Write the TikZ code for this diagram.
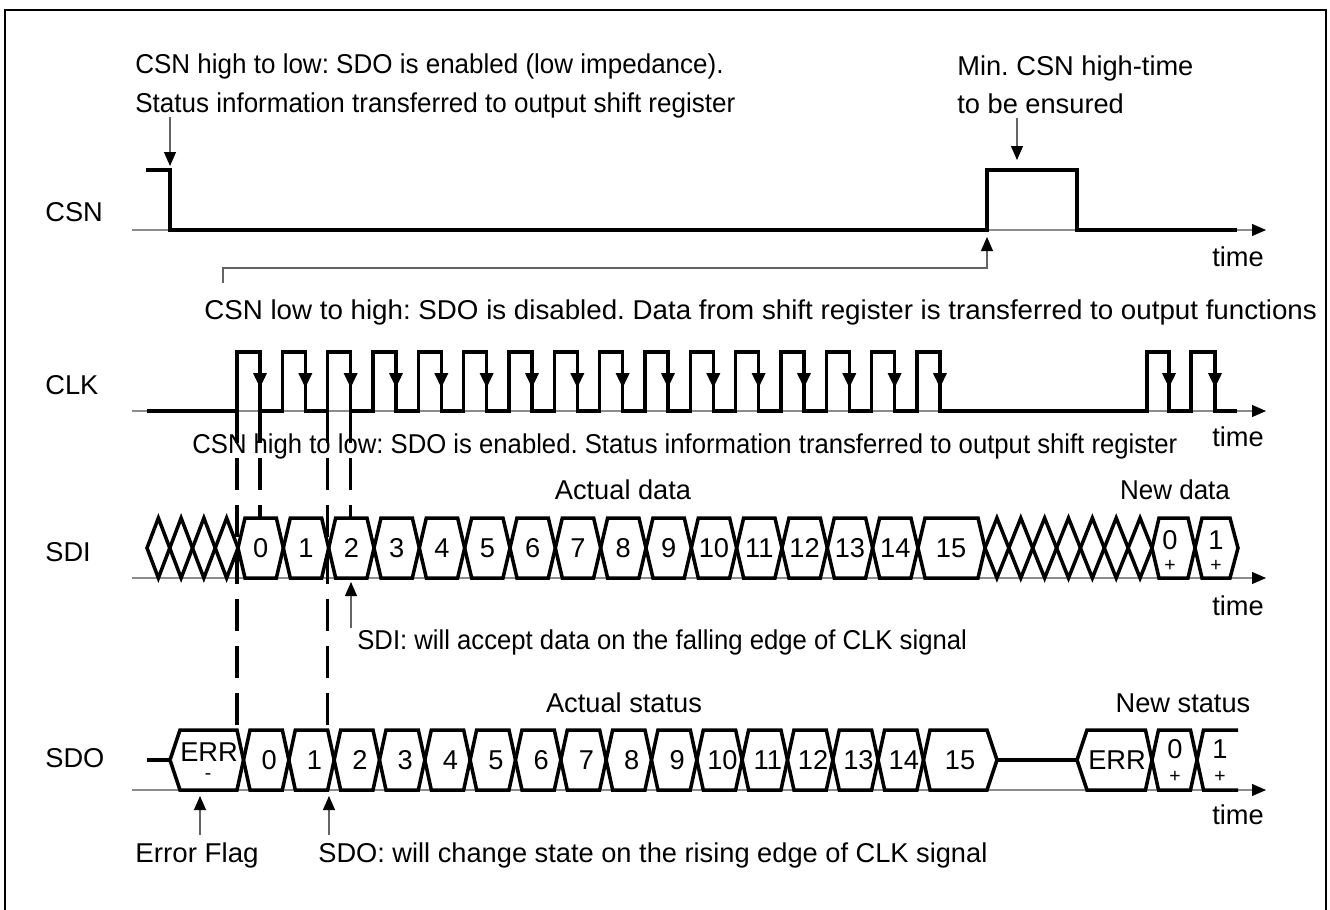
\documentclass[tikz,border=0pt]{standalone}
\usepackage{fontspec}
\setmainfont{Liberation Sans}
\newfontfamily\narrowfont{Liberation Sans}[FakeStretch=0.955]
\newfontfamily\narrowerfont{Liberation Sans}[FakeStretch=0.943]
\newfontfamily\widefont{Liberation Sans}[FakeStretch=1.018]
\usepackage{tikz}
\usetikzlibrary{arrows.meta,positioning}
\definecolor{tgray}{RGB}{100,100,100}
\definecolor{tline}{RGB}{140,140,140}

\begin{document}
\frenchspacing
\begin{tikzpicture}[
  x=0.02cm,y=-0.02cm,
  font=\fontsize{15.5}{18}\selectfont,
  sig/.style={line width=2pt},
  axis/.style={line width=0.6pt,tline,-{Triangle[color=black,length=0.28cm,width=0.24cm]}},
  ann/.style={line width=0.6pt,tgray,-{Triangle[color=black,length=0.28cm,width=0.24cm]}},
  clkarr/.style={line width=2pt,-{Triangle[length=0.3cm,width=0.26cm]}},
  guide/.style={line width=2pt,dash pattern=on 0.64cm off 0.3cm},
  txt/.style={inner sep=0pt,text height=11pt,text depth=0pt},
  note/.style={txt,anchor=west},
  narrow/.style={font=\narrowfont\fontsize{15.5}{18}\selectfont},
  narrower/.style={font=\narrowerfont\fontsize{15.5}{18}\selectfont},
  wide/.style={font=\widefont\fontsize{15.5}{18}\selectfont},
  signlbl/.style={inner sep=0pt,font=\fontsize{11}{12}\selectfont},
  ]
  \useasboundingbox (0,0) rectangle (1330,910);
  \draw[line width=0.7pt] (5,10) rectangle (1326,925);

  % time axes
  \foreach \y in {230,411,578,790}
    \draw[axis] (132,\y) -- (1266,\y);

  % signal names
  \node[note] (csnname) at (45,212) {CSN};
  \node[note] (clkname) at (45,385) {CLK};
  \node[note] (sdiname) at (45,552) {SDI};
  \node[note] (sdoname) at (45,758) {SDO};

  % CSN
  \draw[sig] (146,170) -- (170,170) -- (170,230) -- (987,230) -- (987,170)
    -- (1077,170) -- (1077,230) -- (1237,230);
  \node[note,narrow] (csnfalltxt) at (135,64) {CSN high to low: SDO is enabled (low impedance).};
  \node[note,narrow] (csnfalltxt2) at (135,103) {Status information transferred to output shift register};
  \node[note] (mintxt) at (957,66) {Min. CSN high-time};
  \node[note] (mintxt2) at (957,104) {to be ensured};
  \node[txt] (csntime) at (1238,257) {time};
  \node[note,wide] (csnrisetxt) at (204,310) {CSN low to high: SDO is disabled. Data from shift register is transferred to output functions};
  \coordinate (csnfall) at (170,166);
  \coordinate (minhigh) at (1017,160);
  \coordinate (csnrise) at (987,237);
  \draw[ann] (170,117) -- (csnfall);
  \draw[ann] (1017,118) -- (minhigh);
  \draw[ann] (223,283) |- (987,268) -- (csnrise);

  % CLK
  \node[note,narrower] (clkcsntxt) at (192,444) {CSN high to low: SDO is enabled. Status information transferred to output shift register};
  \node[txt] (clktime) at (1238,437) {time};
  \draw[sig] (147,411) \foreach \k in {0,...,15} {
      -- ({237+45.33*\k},411) -- ({237+45.33*\k},352)
      -- ({260+45.33*\k},352) -- ({260+45.33*\k},411) }
    -- (1147,411) -- (1147,352) -- (1169,352) -- (1169,411)
    -- (1191,411) -- (1191,352) -- (1215,352) -- (1215,411) -- (1237,411);
  \foreach \x in {260,305.33,...,940,1169,1215}
    \draw[clkarr] (\x,352) -- (\x,388);

  % SDI
  \foreach \a in {147,169.75,192.5,215.25}
    \draw[sig] (\a,548) -- (\a+11.375,518) -- (\a+22.75,548) -- (\a+11.375,578) -- cycle;
  \foreach \k in {0,...,14}
    \draw[sig] ({238+45.33*\k},548) -- ({245+45.33*\k},518) -- ({276.33+45.33*\k},518)
      -- ({283.33+45.33*\k},548) -- ({276.33+45.33*\k},578) -- ({245+45.33*\k},578) -- cycle
      node[txt] at ({260.67+45.33*\k},548) {\k};
  \draw[sig] (918,548) -- (925,518) -- (978,518) -- (985,548) -- (978,578) -- (925,578) -- cycle;
  \node[txt] (sdi15) at (951,548) {15};
  \foreach \k in {0,...,6}
    \draw[sig] ({985+23.857*\k},548) -- ({996.93+23.857*\k},518) -- ({1008.86+23.857*\k},548)
      -- ({996.93+23.857*\k},578) -- cycle;
  \draw[sig] (1152,548) -- (1159,518) -- (1188,518) -- (1195,548) -- (1188,578) -- (1159,578) -- cycle;
  \draw[sig] (1195,548) -- (1202,518) -- (1230,518) -- (1238,548) -- (1230,578) -- (1202,578) -- cycle;
  \node[txt] (sdinew0) at (1170,540) {0};
  \node[signlbl] (sdinew0s) at (1170,566) {+};
  \node[txt] (sdinew1) at (1216,540) {1};
  \node[signlbl] (sdinew1s) at (1216,566) {+};
  \node[txt] (actdata) at (623,490) {Actual data};
  \node[txt,narrow] (newdata) at (1175,490) {New data};
  \node[txt] (sditime) at (1238,606) {time};
  \node[note,narrower] (sditxt) at (357,640) {SDI: will accept data on the falling edge of CLK signal};
  \coordinate (sdiedge) at (351,582);
  \draw[ann] (351,628) -- (sdiedge);

  % SDO
  \draw[sig] (147,760) -- (170,760);
  \draw[sig] (170,760) -- (180,730) -- (237,730) -- (243.5,760) -- (237,790) -- (180,790) -- cycle;
  \node[txt] (sdoerr) at (209,752) {ERR};
  \node[signlbl] (sdoerrs) at (208,777) {-};
  \foreach \k in {0,...,14}
    \draw[sig] ({243.5+45.33*\k},760) -- ({250+45.33*\k},730) -- ({282.33+45.33*\k},730)
      -- ({288.83+45.33*\k},760) -- ({282.33+45.33*\k},790) -- ({250+45.33*\k},790) -- cycle
      node[txt] at ({269.17+45.33*\k},760) {\k};
  \draw[sig] (923.5,760) -- (930,730) -- (987,730) -- (997,760) -- (987,790) -- (930,790) -- cycle;
  \node[txt] (sdo15) at (960,760) {15};
  \draw[sig] (997,760) -- (1077,760);
  \draw[sig] (1077,760) -- (1087,730) -- (1145.5,730) -- (1152,760) -- (1145.5,790) -- (1087,790) -- cycle;
  \node[txt] (sdoerr2) at (1117,760) {ERR};
  \draw[sig] (1152,760) -- (1158.5,730) -- (1190.5,730) -- (1197,760) -- (1190.5,790) -- (1158.5,790) -- cycle;
  \draw[sig] (1238,730) -- (1203.5,730) -- (1197,760) -- (1203.5,790) -- (1238,790);
  \node[txt] (sdonew0) at (1175,749) {0};
  \node[signlbl] (sdonew0s) at (1175,777) {+};
  \node[txt] (sdonew1) at (1220,749) {1};
  \node[signlbl] (sdonew1s) at (1220,777) {+};
  \node[txt] (actstatus) at (624,703) {Actual status};
  \node[txt] (newstatus) at (1183,703) {New status};
  \node[txt] (sdotime) at (1238,815) {time};
  \node[txt,wide] (errflag) at (197,853) {Error Flag};
  \node[note] (sdotxt) at (318,853) {SDO: will change state on the rising edge of CLK signal};
  \coordinate (errbit) at (200,796);
  \coordinate (sdoedge) at (329,796);
  \draw[ann] (200,835) -- (errbit);
  \draw[ann] (329,835) -- (sdoedge);

  % clock edges carried down to SDI / SDO
  \foreach \x in {237,327.67}
    \draw[guide] (\x,411) -- (\x,730);
  \foreach \x in {260,350.67}
    \draw[guide] (\x,411) -- (\x,518);
\end{tikzpicture}
\end{document}
